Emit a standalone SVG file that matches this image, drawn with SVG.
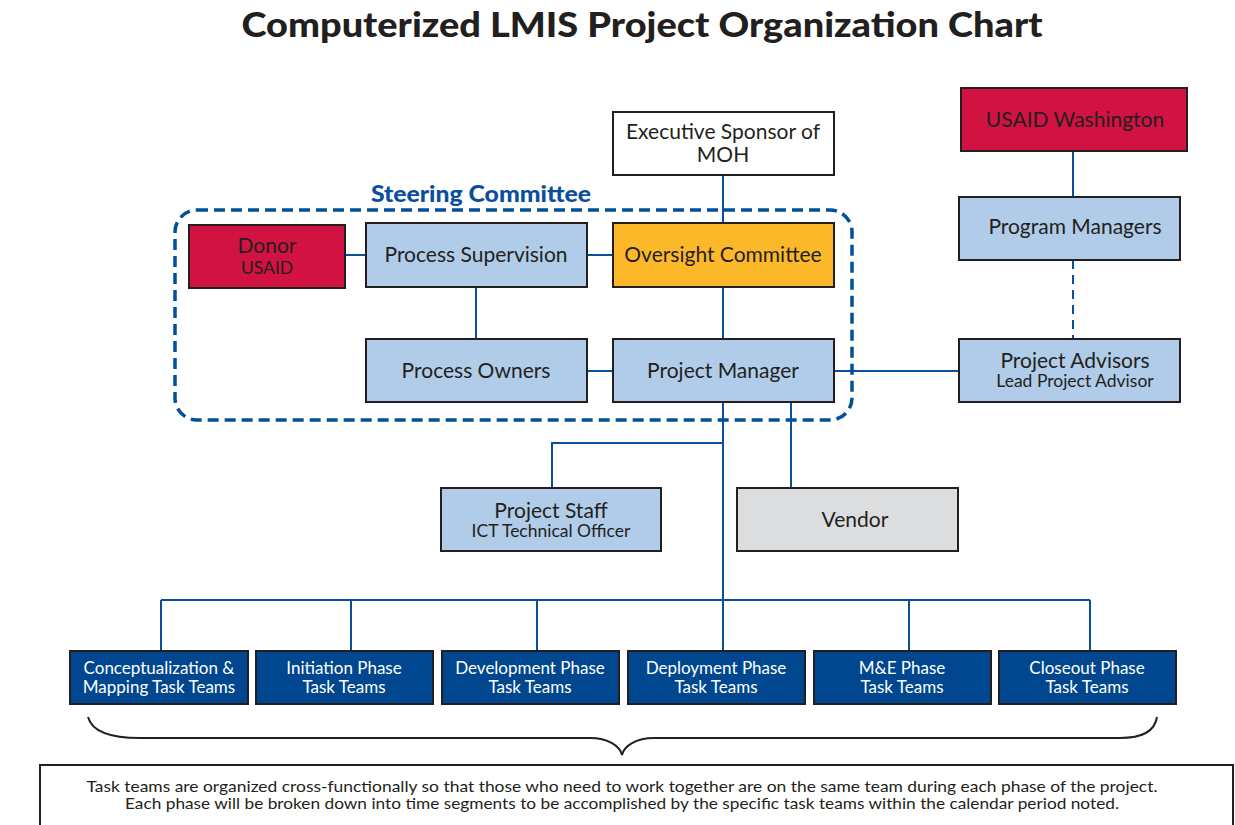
<svg xmlns="http://www.w3.org/2000/svg" width="1235" height="825" viewBox="0 0 1235 825">
<style>
  .box{stroke:#231f20;stroke-width:2}
  .lb{fill:#b0cce9}
  .red{fill:#d21242}
  .dk{fill:#00478f}
  .t{font-family:Lato,"Open Sans",sans-serif;fill:#231f20;text-anchor:middle}
  .tw{font-family:Lato,"Open Sans",sans-serif;fill:#ffffff;text-anchor:middle;font-size:17px}
  .m{font-size:21px}
  .s{font-size:17.5px}
  .con{stroke:#0a4f9c;stroke-width:2;fill:none}
</style>
<rect width="1235" height="825" fill="#ffffff"/>
<text x="642" y="37" class="t" style="font-size:35px;font-weight:900" textLength="801" lengthAdjust="spacingAndGlyphs">Computerized LMIS Project Organization Chart</text>

<g id="connectors">
  <line class="con" x1="723" y1="175" x2="723" y2="223"/>
  <line class="con" x1="345" y1="255" x2="366" y2="255"/>
  <line class="con" x1="587" y1="255" x2="613" y2="255"/>
  <line class="con" x1="476" y1="287" x2="476" y2="339"/>
  <line class="con" x1="723" y1="287" x2="723" y2="339"/>
  <line class="con" x1="587" y1="371" x2="613" y2="371"/>
  <line class="con" x1="834" y1="371" x2="959" y2="371"/>
  <line class="con" x1="1073" y1="151" x2="1073" y2="197"/>
  <line class="con" x1="1073" y1="260" x2="1073" y2="339" stroke-dasharray="9,6"/>
  <line class="con" x1="723" y1="402" x2="723" y2="651"/>
  <line class="con" x1="791" y1="402" x2="791" y2="488"/>
  <polyline class="con" points="723,443 552,443 552,488"/>
  <line class="con" x1="161" y1="600" x2="1090" y2="600"/>
  <line class="con" x1="161" y1="600" x2="161" y2="651"/>
  <line class="con" x1="351" y1="600" x2="351" y2="651"/>
  <line class="con" x1="537" y1="600" x2="537" y2="651"/>
  <line class="con" x1="909" y1="600" x2="909" y2="651"/>
  <line class="con" x1="1090" y1="600" x2="1090" y2="651"/>
</g>

<g id="steering-committee">
  <rect x="175" y="210" width="677" height="210" rx="22" fill="none" stroke="#00509a" stroke-width="3.5" stroke-dasharray="11,6"/>
  <text x="481" y="202" style="font-family:Lato,'Open Sans',sans-serif;font-size:22px;font-weight:900;fill:#0a4f9c;text-anchor:middle" textLength="220" lengthAdjust="spacingAndGlyphs">Steering Committee</text>
</g>

<g id="exec-sponsor">
  <rect class="box" x="613" y="112" width="221" height="63" fill="#ffffff"/>
  <text class="t m" x="723" y="139">Executive Sponsor of</text>
  <text class="t m" x="723" y="162">MOH</text>
</g>
<g id="donor">
  <rect class="box red" x="189" y="225" width="156" height="63"/>
  <text class="t m" x="267" y="253">Donor</text>
  <text class="t s" x="267" y="274">USAID</text>
</g>
<g id="process-supervision">
  <rect class="box lb" x="366" y="223" width="221" height="64"/>
  <text class="t m" x="476" y="262">Process Supervision</text>
</g>
<g id="oversight">
  <rect class="box" x="613" y="223" width="221" height="64" fill="#fbb829"/>
  <text class="t m" x="723" y="262">Oversight Committee</text>
</g>
<g id="process-owners">
  <rect class="box lb" x="366" y="339" width="221" height="63"/>
  <text class="t m" x="476" y="378">Process Owners</text>
</g>
<g id="project-manager">
  <rect class="box lb" x="613" y="339" width="221" height="63"/>
  <text class="t m" x="723" y="378">Project Manager</text>
</g>
<g id="usaid-washington">
  <rect class="box red" x="961" y="88" width="226" height="63"/>
  <text class="t m" x="1075" y="127">USAID Washington</text>
</g>
<g id="program-managers">
  <rect class="box lb" x="959" y="197" width="221" height="63"/>
  <text class="t m" x="1075" y="234">Program Managers</text>
</g>
<g id="project-advisors">
  <rect class="box lb" x="959" y="339" width="221" height="63"/>
  <text class="t m" x="1075" y="368">Project Advisors</text>
  <text class="t s" x="1075" y="387">Lead Project Advisor</text>
</g>
<g id="project-staff">
  <rect class="box lb" x="441" y="488" width="220" height="63"/>
  <text class="t m" x="551" y="518">Project Staff</text>
  <text class="t s" x="551" y="537">ICT Technical Officer</text>
</g>
<g id="vendor">
  <rect class="box" x="737" y="488" width="221" height="63" fill="#dcdddf"/>
  <text class="t m" x="855" y="527">Vendor</text>
</g>

<g id="team-conceptualization">
  <rect class="box dk" x="70" y="651" width="178" height="53"/>
  <text class="tw" x="159" y="674">Conceptualization &amp;</text>
  <text class="tw" x="159" y="693">Mapping Task Teams</text>
</g>
<g id="team-initiation">
  <rect class="box dk" x="256" y="651" width="177" height="53"/>
  <text class="tw" x="344" y="674">Initiation Phase</text>
  <text class="tw" x="344" y="693">Task Teams</text>
</g>
<g id="team-development">
  <rect class="box dk" x="442" y="651" width="177" height="53"/>
  <text class="tw" x="530" y="674">Development Phase</text>
  <text class="tw" x="530" y="693">Task Teams</text>
</g>
<g id="team-deployment">
  <rect class="box dk" x="628" y="651" width="177" height="53"/>
  <text class="tw" x="716" y="674">Deployment Phase</text>
  <text class="tw" x="716" y="693">Task Teams</text>
</g>
<g id="team-me">
  <rect class="box dk" x="814" y="651" width="177" height="53"/>
  <text class="tw" x="902" y="674">M&amp;E Phase</text>
  <text class="tw" x="902" y="693">Task Teams</text>
</g>
<g id="team-closeout">
  <rect class="box dk" x="999" y="651" width="177" height="53"/>
  <text class="tw" x="1087" y="674">Closeout Phase</text>
  <text class="tw" x="1087" y="693">Task Teams</text>
</g>

<g id="brace">
  <path d="M88,717 C92,732 110,738 140,738 L590,738 C608,738 620,746 622,755 C624,746 636,738 654,738 L1120,738 C1145,738 1155,730 1157,717" fill="none" stroke="#231f20" stroke-width="2"/>
</g>

<g id="note">
  <rect x="40" y="765" width="1193" height="70" fill="#ffffff" stroke="#231f20" stroke-width="2"/>
  <text class="t" style="font-size:16px" x="622" y="792" textLength="1071" lengthAdjust="spacingAndGlyphs">Task teams are organized cross-functionally so that those who need to work together are on the same team during each phase of the project.</text>
  <text class="t" style="font-size:16px" x="622" y="809" textLength="994" lengthAdjust="spacingAndGlyphs">Each phase will be broken down into time segments to be accomplished by the specific task teams within the calendar period noted.</text>
</g>
</svg>
